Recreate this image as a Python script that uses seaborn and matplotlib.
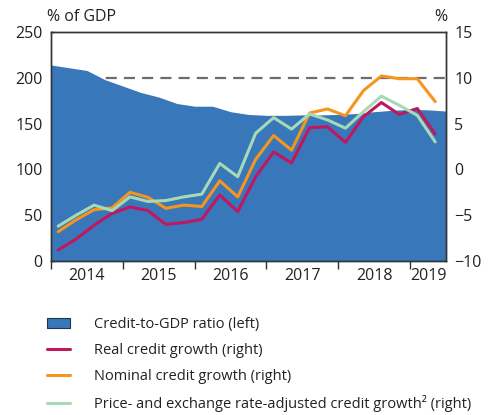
import numpy as np
import pandas as pd
import matplotlib
matplotlib.use("Agg")
import matplotlib.pyplot as plt
import seaborn as sns
from matplotlib.patches import Patch
from matplotlib.lines import Line2D

sns.set_theme(style="white")
plt.rcParams['font.family'] = ['Open Sans', 'DejaVu Sans']

# ---- data ----
years = [2014, 2015, 2016, 2017, 2018, 2019]

# credit-to-GDP ratio (left axis), quarterly from 2014Q1 to 2019Q3
ratio_quarters = [f"{y}Q{q}" for y in range(2014, 2020) for q in range(1, 5)][:23]
credit_to_gdp = [214, 211, 208, 198, 191, 184, 179, 172, 169, 169, 163, 160,
                 159, 159, 159.5, 159.5, 160, 161, 163, 164.5, 165.5, 165, 163.7]

# growth rates (right axis), quarterly 2014Q1 .. 2019Q2
growth_quarters = [f"{y}Q{q}" for y in range(2014, 2020) for q in range(1, 5)][:22]
real_growth = [-8.8, -7.6, -6.1, -4.8, -4.1, -4.5, -6.0, -5.8, -5.45, -2.8, -4.6,
               -0.8, 1.9, 0.7, 4.55, 4.65, 2.95, 5.75, 7.3, 6.0, 6.65, 3.85]
nominal_growth = [-6.8, -5.5, -4.4, -4.2, -2.5, -3.05, -4.25, -3.9, -4.05, -1.25, -3.0,
                  1.1, 3.7, 2.1, 6.15, 6.6, 5.85, 8.6, 10.2, 9.9, 9.9, 7.4]
adjusted_growth = [-6.2, -5.0, -3.9, -4.5, -3.0, -3.5, -3.4, -3.0, -2.7, 0.65, -0.8,
                   3.95, 5.65, 4.4, 6.05, 5.4, 4.5, 6.3, 8.0, 7.0, 5.9, 3.0]

legend_labels = ["Credit-to-GDP ratio (left)", "Real credit growth (right)",
                 "Nominal credit growth (right)",
                 "Price- and exchange rate-adjusted credit growth\u00b2 (right)"]

def q_to_num(q, offset=0.0):
    y, qq = q.split("Q")
    return int(y) + (int(qq) - 1) * 0.25 + offset

c_area = "#3877B9"
c_real = "#C0175F"
c_nom = "#F7941E"
c_adj = "#A6D9B5"

ratio_df = pd.DataFrame({"t": [q_to_num(q) for q in ratio_quarters], "v": credit_to_gdp})
g_t = [q_to_num(q, 0.1) for q in growth_quarters]
growth_df = pd.DataFrame({
    "t": g_t * 3,
    "v": real_growth + nominal_growth + adjusted_growth,
    "series": [legend_labels[1]] * 22 + [legend_labels[2]] * 22 + [legend_labels[3]] * 22,
})

fig = plt.figure(figsize=(4.9, 4.15), dpi=100)
ax = fig.add_axes([51 / 490, 1 - 261 / 415, (446 - 51) / 490, (261 - 32) / 415])
ax2 = ax.twinx()

# area
ax.fill_between(ratio_df["t"], 0, ratio_df["v"], color=c_area, linewidth=0, zorder=2)
ax.axhline(200, color="#6d6d6d", lw=1.6, dashes=(5, 3.2), zorder=1)
ax.set_xlim(2014, 2019.5)
ax.set_ylim(0, 250)
ax.set_yticks([0, 50, 100, 150, 200, 250])

sns.lineplot(data=growth_df, x="t", y="v", hue="series",
             palette=[c_real, c_nom, c_adj], hue_order=legend_labels[1:],
             linewidth=2.2, ax=ax2, legend=False, estimator=None, sort=False)
ax2.set_ylim(-10, 15)
ax2.set_yticks([-10, -5, 0, 5, 10, 15])
ax2.set_xlim(2014, 2019.5)
ax2.set_xlabel("")
ax2.set_ylabel("")
ax.set_xlabel("")
ax.set_ylabel("")

fs = 11.5
# x ticks: year boundaries as marks, labels centred in each year
ax.set_xticks(years)
ax.set_xticklabels([])
ax.set_xticks([2014.5, 2015.5, 2016.5, 2017.5, 2018.5, 2019.25], minor=True)
ax.set_xticklabels([str(y) for y in years], minor=True)
ax.tick_params(axis="x", which="major", direction="out", length=6, width=1, color="#333333", bottom=True)
ax.tick_params(axis="x", which="minor", length=0, pad=5, labelsize=fs, labelcolor="#222222", bottom=True)
ax.tick_params(axis="y", direction="in", length=2.5, width=1, color="#333333", left=True,
               labelsize=fs, labelcolor="#222222", pad=6)
ax2.tick_params(axis="y", direction="in", length=0, labelsize=fs, labelcolor="#222222", pad=6, right=True)

for a in (ax, ax2):
    for s in a.spines.values():
        s.set_color("#333333")
        s.set_linewidth(1.0)
    a.grid(False)
ax.set_facecolor("white")

fig.text(47 / 490, 1 - 17 / 415, "% of GDP", ha="left", va="center", fontsize=fs, color="#222222")
fig.text(441 / 490, 1 - 17 / 415, "%", ha="center", va="center", fontsize=fs, color="#222222")

handles = [
    Patch(facecolor=c_area, edgecolor="#1f3550", linewidth=0.8),
    Line2D([], [], color=c_real, lw=2.2),
    Line2D([], [], color=c_nom, lw=2.2),
    Line2D([], [], color=c_adj, lw=2.2),
]
fig.legend(handles, legend_labels, loc="upper left", bbox_to_anchor=(34 / 490, 1 - 304 / 415),
           frameon=False, fontsize=10.5, handlelength=1.6, handleheight=0.7, handletextpad=1.6,
           labelspacing=0.76, labelcolor="#222222")

fig.savefig("out.png", dpi=100)
